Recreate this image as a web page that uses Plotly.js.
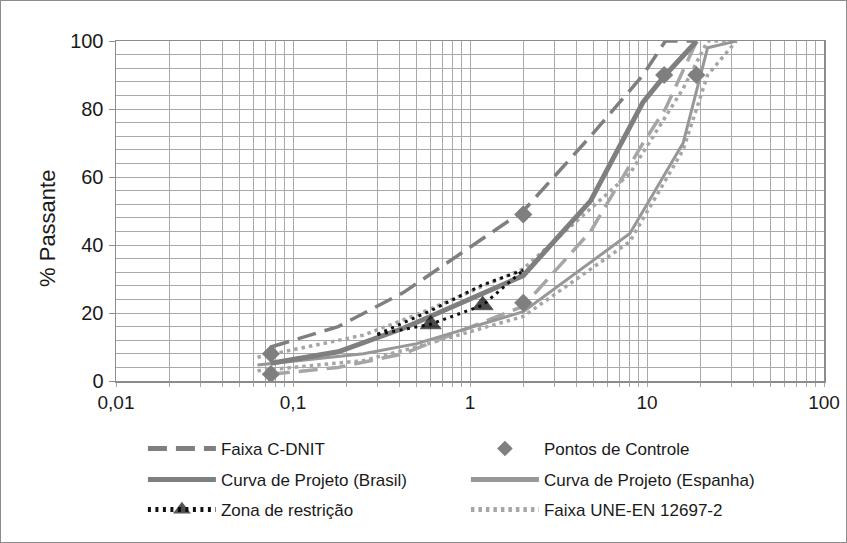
<!DOCTYPE html>
<html>
<head>
<meta charset="utf-8">
<script src="https://cdn.plot.ly/plotly-3.0.1.min.js"></script>
<style>
  html, body { margin: 0; padding: 0; background: #fff; }
  #wrap { position: relative; width: 847px; height: 543px; }
  #chart { position: absolute; left: 0; top: 0; width: 847px; height: 543px; }
  #frame { position: absolute; left: 0; top: 0; width: 845px; height: 541px; border: 1px solid #8c8c8c; pointer-events: none; }
</style>
</head>
<body>
<div id="wrap"><div id="chart"></div><div id="frame"></div></div>
<script>
// ---- Data (sieve opening in mm, % passing) ----
const sieveDNIT = [0.075, 0.18, 0.42, 2.0, 4.8, 9.5, 12.7, 19.1];
const dnitUpper = [10, 16, 26, 50, 72, 90, 100, 100];
const dnitLower = [2, 4, 8, 22, 44, 70, 80, 100];
const brasilDesign = [5.2, 8.6, 15.5, 31, 53, 82, 90, 100];

const ctrlSieve = [0.075, 0.075, 2.0, 2.0, 12.5, 19.0];
const ctrlPass = [2, 8, 23, 49, 90, 90];

const zonaSieve = [0.3, 0.6, 1.18, 2.0];
const zonaUpper = [13.7, 20.7, 28.3, 32.6];
const zonaLower = [13.7, 16.7, 22.3, 32.6];

const sieveUNE = [0.063, 0.25, 0.5, 2, 8, 16, 22, 32];
const uneUpper = [7, 13.5, 19.5, 33, 61, 86, 100, 100];
const uneLower = [3, 6, 10, 19, 41, 68, 90, 100];
const espanhaDesign = [4.7, 8, 11, 20.4, 43.4, 70, 98, 100];

const xTickVals = [0.01, 0.1, 1, 10, 100];
const xTickText = ['0,01', '0,1', '1', '10', '100'];
const yTickVals = [0, 20, 40, 60, 80, 100];

const names = {
  dnit: 'Faixa C-DNIT',
  ctrl: 'Pontos de Controle',
  brasil: 'Curva de Projeto (Brasil)',
  espanha: 'Curva de Projeto (Espanha)',
  zona: 'Zona de restrição',
  une: 'Faixa UNE-EN 12697-2'
};
const yTitle = '% Passante';

const DARK = '#7f7f7f';
const LIGHT = '#a6a6a6';
const MID = '#979797';
const GRID = '#a9a9a9';

const traces = [
  { x: sieveUNE, y: uneLower, mode: 'lines', name: names.une, showlegend: false,
    line: { color: LIGHT, width: 3.5, dash: '3.5px,4px' } },
  { x: sieveUNE, y: uneUpper, mode: 'lines', name: names.une, legend: 'legend3', legendrank: 2,
    line: { color: LIGHT, width: 3.5, dash: '3.5px,4px' } },
  { x: sieveDNIT, y: dnitLower, mode: 'lines', name: names.dnit, showlegend: false,
    line: { color: LIGHT, width: 3.5, dash: '19px,9px' } },
  { x: sieveUNE, y: espanhaDesign, mode: 'lines', name: names.espanha, legend: 'legend2', legendrank: 2,
    line: { color: MID, width: 3 } },
  { x: sieveDNIT, y: brasilDesign, mode: 'lines', name: names.brasil, legend: 'legend2', legendrank: 1,
    line: { color: DARK, width: 5 } },
  { x: sieveDNIT, y: dnitUpper, mode: 'lines', name: names.dnit, legend: 'legend', legendrank: 1,
    line: { color: DARK, width: 3.5, dash: '19px,9px' } },
  { x: zonaSieve, y: zonaUpper, mode: 'lines', name: names.zona, showlegend: false,
    line: { color: '#111', width: 3, dash: '3px,4.5px' } },
  { x: zonaSieve, y: zonaLower, mode: 'lines+markers', name: names.zona, legend: 'legend3', legendrank: 1,
    line: { color: '#111', width: 3, dash: '3px,4.5px' },
    marker: { symbol: 'triangle-up', color: '#000', size: [0, 18, 18, 0] } },
  { x: ctrlSieve, y: ctrlPass, mode: 'markers', name: names.ctrl, legend: 'legend', legendrank: 2,
    marker: { symbol: 'diamond', color: DARK, size: 14 } }
];

const FONT = "'Liberation Sans', Arial, sans-serif";
const legendCommon = {
  orientation: 'h', xanchor: 'left', yanchor: 'middle', x: 0.038,
  entrywidth: 240, entrywidthmode: 'pixels', itemwidth: 68, itemsizing: 'constant',
  font: { family: FONT, size: 17, color: '#1a1a1a' }, bgcolor: 'rgba(0,0,0,0)'
};

const layout = {
  width: 847, height: 543,
  margin: { l: 116, r: 23, t: 41, b: 162 },
  paper_bgcolor: '#ffffff', plot_bgcolor: '#ffffff',
  font: { family: FONT, color: '#1a1a1a' },
  xaxis: {
    type: 'log', range: [-2, 2],
    tickmode: 'array', tickvals: xTickVals, ticktext: xTickText,
    showgrid: true, gridcolor: GRID, gridwidth: 1,
    minor: { dtick: 'D1', showgrid: true, gridcolor: GRID, gridwidth: 1, ticks: 'outside', ticklen: 4, tickcolor: GRID },
    ticks: 'outside', ticklen: 4, tickcolor: GRID,
    showline: true, linecolor: '#8c8c8c', linewidth: 1.5, mirror: true,
    tickfont: { family: FONT, size: 19, color: '#1a1a1a' },
    ticklabelstandoff: 0,
    zeroline: false
  },
  yaxis: {
    range: [0, 100], tickmode: 'array', tickvals: yTickVals,
    showgrid: false,
    minor: { dtick: 4, showgrid: true, gridcolor: GRID, gridwidth: 1, ticks: '' },
    ticks: 'outside', ticklen: 6, tickcolor: '#8c8c8c',
    showline: true, linecolor: '#8c8c8c', linewidth: 1.5, mirror: true,
    tickfont: { family: FONT, size: 20, color: '#1a1a1a' },
    ticklabelstandoff: 1,
    zeroline: false
  },
  annotations: [{
    text: yTitle, xref: 'paper', yref: 'paper', x: -0.0975, y: 0.45,
    xanchor: 'center', yanchor: 'middle', textangle: -90, showarrow: false,
    font: { family: FONT, size: 22, color: '#1a1a1a' }
  }],
  legend: Object.assign({}, legendCommon, { y: -0.2 }),
  legend2: Object.assign({}, legendCommon, { y: -0.291 }),
  legend3: Object.assign({}, legendCommon, { y: -0.379 })
};

Plotly.newPlot('chart', traces, layout, { staticPlot: true, displayModeBar: false });
</script>
</body>
</html>
